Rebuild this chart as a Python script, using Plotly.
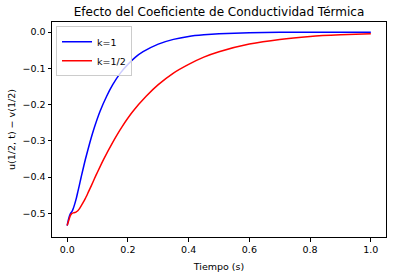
import plotly.graph_objects as go

# Blue curve (k=1): time and value
t_k1 = [0.0, 0.004, 0.008, 0.012, 0.016, 0.02, 0.025, 0.03, 0.035, 0.04, 0.045,
        0.05, 0.06, 0.075, 0.09, 0.108, 0.13, 0.15, 0.175, 0.2, 0.225, 0.25, 0.3,
        0.35, 0.4, 0.45, 0.5, 0.6, 0.7, 0.8, 0.9, 1.0]
u_k1 = [-0.534, -0.518, -0.506, -0.499, -0.495, -0.487, -0.474, -0.459, -0.441,
        -0.423, -0.404, -0.386, -0.351, -0.304, -0.262, -0.219, -0.177, -0.145,
        -0.113, -0.089, -0.069, -0.054, -0.033, -0.020, -0.012, -0.0075, -0.0046,
        -0.0017, -0.0006, -0.0002, -0.0001, 0.0]

# Red curve (k=1/2)
t_k12 = [0.0, 0.005, 0.01, 0.015, 0.02, 0.025, 0.03, 0.035, 0.04, 0.05, 0.06, 0.07,
         0.08, 0.09, 0.1, 0.12, 0.15, 0.18, 0.216, 0.26, 0.3, 0.35, 0.4, 0.45, 0.5,
         0.6, 0.7, 0.8, 0.9, 1.0]
u_k12 = [-0.534, -0.520, -0.507, -0.501, -0.499, -0.498, -0.496, -0.493, -0.488,
         -0.474, -0.459, -0.441, -0.423, -0.404, -0.386, -0.351, -0.304, -0.262,
         -0.219, -0.177, -0.145, -0.113, -0.089, -0.069, -0.054, -0.033, -0.020,
         -0.012, -0.0075, -0.0046]

x_ticks = [0.0, 0.2, 0.4, 0.6, 0.8, 1.0]
y_ticks = [0.0, -0.1, -0.2, -0.3, -0.4, -0.5]

FONT = "DejaVu Sans"

fig = go.Figure()
fig.add_trace(go.Scatter(x=t_k1, y=u_k1, mode="lines", name="k=1",
                         line=dict(color="#0000ff", width=1.5, shape="spline", smoothing=0.5)))
fig.add_trace(go.Scatter(x=t_k12, y=u_k12, mode="lines", name="k=1/2",
                         line=dict(color="#ff0000", width=1.5, shape="spline", smoothing=0.5)))

axis_common = dict(showgrid=False, zeroline=False, showline=True, linecolor="black",
                   linewidth=1, mirror=True, ticks="outside", ticklen=3.5,
                   tickcolor="black", tickwidth=1, tickformat=".1f",
                   tickfont=dict(family=FONT, size=9.5, color="black"))

fig.update_layout(
    width=394, height=278,
    margin=dict(l=52, r=7, t=22, b=36.5),
    paper_bgcolor="white", plot_bgcolor="white",
    font=dict(family=FONT, color="black"),
    title=dict(text="Efecto del Coeficiente de Conductividad Térmica",
               xref="paper", x=0.5, xanchor="center",
               yref="container", y=1 - 12 / 278, yanchor="middle",
               font=dict(family=FONT, size=12, color="black")),
    xaxis=dict(range=[-0.05, 1.05], tickvals=x_ticks,
               title=dict(text="Tiempo (s)", font=dict(family=FONT, size=9.5), standoff=9),
               **axis_common),
    yaxis=dict(range=[-0.5655, 0.028], tickvals=y_ticks,
               title=dict(text="u(1/2, t) − v(1/2)", font=dict(family=FONT, size=9.5), standoff=5),
               **axis_common),
    legend=dict(x=0.012, y=0.98, xanchor="left", yanchor="top",
                bgcolor="rgba(255,255,255,0.8)", bordercolor="#cccccc", borderwidth=1,
                font=dict(family=FONT, size=9.5, color="black"),
                tracegroupgap=0, itemwidth=30),
    showlegend=True,
)

fig.write_html("out.html")
